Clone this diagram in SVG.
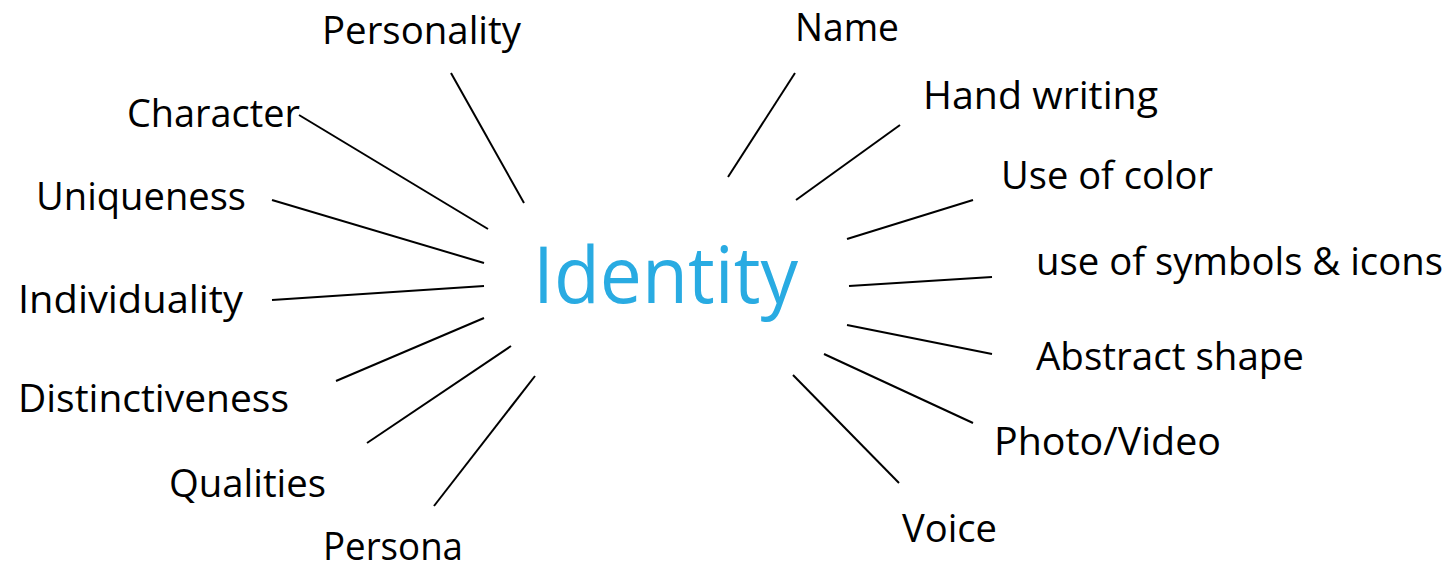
<svg xmlns="http://www.w3.org/2000/svg" width="1456" height="566" viewBox="0 0 1456 566">
<style>
.lbl{font-family:"Open Sans","Noto Sans","Liberation Sans",sans-serif;font-size:38px;fill:#000}
.hub{font-family:"Open Sans","Noto Sans","Liberation Sans",sans-serif;font-size:78px;fill:#29ABE2}
.conn line{stroke:#000;stroke-width:2;stroke-linecap:butt}
</style>
<rect width="1456" height="566" fill="#fff"/>
<g id="connectors" class="conn">
<line x1="451" y1="73" x2="524" y2="203"/>
<line x1="299" y1="115" x2="488" y2="229"/>
<line x1="272" y1="200" x2="484" y2="263"/>
<line x1="272" y1="300" x2="484" y2="286"/>
<line x1="336" y1="381" x2="484" y2="318"/>
<line x1="367" y1="443" x2="511" y2="346"/>
<line x1="434" y1="506" x2="535" y2="376"/>
<line x1="795" y1="73" x2="728" y2="177"/>
<line x1="900" y1="125" x2="796" y2="200"/>
<line x1="973" y1="200" x2="847" y2="239"/>
<line x1="992" y1="277" x2="849" y2="286"/>
<line x1="992" y1="354" x2="847" y2="325"/>
<line x1="973" y1="423" x2="824" y2="354"/>
<line x1="899" y1="483" x2="793" y2="375"/>
</g>
<g id="identity"><text class="hub" x="533" y="303" textLength="265" lengthAdjust="spacingAndGlyphs">Identity</text></g>
<g id="personality"><text class="lbl" x="322" y="44" textLength="199" lengthAdjust="spacingAndGlyphs">Personality</text></g>
<g id="character"><text class="lbl" x="127" y="127" textLength="173" lengthAdjust="spacingAndGlyphs">Character</text></g>
<g id="uniqueness"><text class="lbl" x="36" y="210" textLength="210" lengthAdjust="spacingAndGlyphs">Uniqueness</text></g>
<g id="individuality"><text class="lbl" x="18" y="313" textLength="225" lengthAdjust="spacingAndGlyphs">Individuality</text></g>
<g id="distinctiveness"><text class="lbl" x="18" y="412" textLength="271" lengthAdjust="spacingAndGlyphs">Distinctiveness</text></g>
<g id="qualities"><text class="lbl" x="169" y="497" textLength="157" lengthAdjust="spacingAndGlyphs">Qualities</text></g>
<g id="persona"><text class="lbl" x="323" y="560" textLength="140" lengthAdjust="spacingAndGlyphs">Persona</text></g>
<g id="name"><text class="lbl" x="795" y="41" textLength="104" lengthAdjust="spacingAndGlyphs">Name</text></g>
<g id="hand-writing"><text class="lbl" x="923" y="109" textLength="235" lengthAdjust="spacingAndGlyphs">Hand writing</text></g>
<g id="use-of-color"><text class="lbl" x="1001" y="189" textLength="212" lengthAdjust="spacingAndGlyphs">Use of color</text></g>
<g id="use-of-symbols"><text class="lbl" x="1036" y="275" textLength="407" lengthAdjust="spacingAndGlyphs">use of symbols &amp; icons</text></g>
<g id="abstract-shape"><text class="lbl" x="1036" y="370" textLength="268" lengthAdjust="spacingAndGlyphs">Abstract shape</text></g>
<g id="photo-video"><text class="lbl" x="994" y="455" textLength="227" lengthAdjust="spacingAndGlyphs">Photo/Video</text></g>
<g id="voice"><text class="lbl" x="902" y="542" textLength="95" lengthAdjust="spacingAndGlyphs">Voice</text></g>
</svg>
